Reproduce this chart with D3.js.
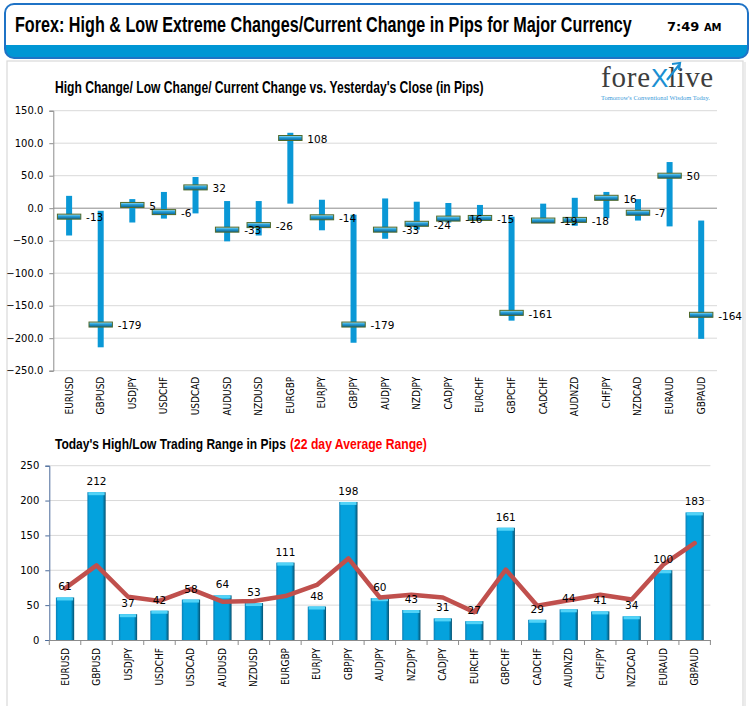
<!DOCTYPE html>
<html>
<head>
<meta charset="utf-8">
<script src="https://cdn.jsdelivr.net/npm/d3@7"></script>
<style>
  html, body { margin: 0; padding: 0; background: #ffffff; }
  svg { display: block; }
</style>
</head>
<body>
<svg id="chart" width="754" height="706"></svg>
<script>
// ---------------- DATA ----------------
const categories = ["EURUSD","GBPUSD","USDJPY","USDCHF","USDCAD","AUDUSD","NZDUSD","EURGBP","EURJPY","GBPJPY","AUDJPY","NZDJPY","CADJPY","EURCHF","GBPCHF","CADCHF","AUDNZD","CHFJPY","NZDCAD","EURAUD","GBPAUD"];
const highChange    = [19, -4, 14, 25, 48, 11, 11, 116, 13, -10, 15, 10, 8, 5, -13, 7, 16, 25, 14, 71, -19];
const lowChange     = [-42, -214, -22, -16, -8, -51, -42, 7, -34, -207, -47, -33, -22, -19, -173, -20, -27, -15, -19, -28, -201];
const currentChange = [-13, -179, 5, -6, 32, -33, -26, 108, -14, -179, -33, -24, -16, -15, -161, -19, -18, 16, -7, 50, -164];
const todayRange    = [61, 212, 37, 42, 58, 64, 53, 111, 48, 198, 60, 43, 31, 27, 161, 29, 44, 41, 34, 100, 183];
const avgRange22    = [74, 107, 62, 56, 73, 55, 56, 63, 79, 117, 61, 65, 61, 40, 101, 49, 57, 65, 58, 108, 139];
const topTicks      = [150, 100, 50, 0, -50, -100, -150, -200, -250];
const bottomTicks   = [0, 50, 100, 150, 200, 250];
const mainTitle     = "Forex:  High & Low Extreme Changes/Current Change in Pips for Major Currency";
const timeLabel     = "7:49";
const topTitle      = "High Change/ Low Change/ Current Change vs. Yesterday's Close (in Pips)";
const bottomTitleA  = "Today's High/Low Trading Range in Pips";
const bottomTitleB  = "(22 day Average Range)";

// ---------------- SETUP ----------------
const svg = d3.select("#chart");
const defs = svg.append("defs");
const narrow = "'Liberation Sans Narrow', 'Liberation Sans', Arial, sans-serif";
const sans = "'DejaVu Sans', Verdana, sans-serif";
const cond = "'DejaVu Sans Condensed', 'DejaVu Sans', sans-serif";

// scale a text horizontally so it spans exactly [x, x+width]
function fitText(sel, x, width) {
  sel.attr("x", 0);
  const w = sel.node().getComputedTextLength();
  sel.attr("transform", `translate(${x},0) scale(${width / w},1)`);
  return sel;
}

// gradients
const mg = defs.append("linearGradient").attr("id","markerGrad").attr("x1",0).attr("y1",0).attr("x2",0).attr("y2",1);
mg.append("stop").attr("offset","0%").attr("stop-color","#c9ecfa");
mg.append("stop").attr("offset","35%").attr("stop-color","#2aa8e0");
mg.append("stop").attr("offset","100%").attr("stop-color","#0b5f92");

const bg = defs.append("linearGradient").attr("id","barGrad").attr("x1",0).attr("y1",0).attr("x2",1).attr("y2",0);
bg.append("stop").attr("offset","0%").attr("stop-color","#0b7fb6");
bg.append("stop").attr("offset","12%").attr("stop-color","#04a2dd");
bg.append("stop").attr("offset","82%").attr("stop-color","#04a2dd");
bg.append("stop").attr("offset","100%").attr("stop-color","#06506f");

// ---------------- HEADER ----------------
defs.append("clipPath").attr("id","hdrClip")
  .append("rect").attr("x",5).attr("y",4).attr("width",743).attr("height",54).attr("rx",9);
const hdr = svg.append("g");
hdr.append("rect").attr("x",5).attr("y",4).attr("width",743).attr("height",54).attr("rx",9).attr("fill","#ffffff");
hdr.append("rect").attr("x",5).attr("y",45).attr("width",743).attr("height",14)
  .attr("fill","#0096d4").attr("clip-path","url(#hdrClip)");
hdr.append("rect").attr("x",5).attr("y",4).attr("width",743).attr("height",54).attr("rx",9)
  .attr("fill","none").attr("stroke","#1f73c6").attr("stroke-width",2);
fitText(hdr.append("text").attr("y",32)
  .attr("font-family",narrow).attr("font-weight","bold").attr("font-size",22)
  .attr("fill","#000").text(mainTitle), 15, 617);
const tl = hdr.append("text").attr("x",667).attr("y",31)
  .attr("font-family",sans).attr("font-weight","bold").attr("font-size",13).attr("fill","#000");
tl.append("tspan").text(timeLabel + " ");
tl.append("tspan").attr("font-size",10).text("AM");

// ---------------- PANEL ----------------
svg.append("rect").attr("x",7).attr("y",61).attr("width",736).attr("height",650)
  .attr("fill","#fff").attr("stroke","#d9d9d9").attr("stroke-width",1.2);
svg.append("line").attr("x1",745).attr("x2",745).attr("y1",62).attr("y2",706)
  .attr("stroke","#ececec").attr("stroke-width",2);

// ---------------- LOGO ----------------
const logo = svg.append("g");
const lt = logo.append("text").attr("x",601).attr("y",87)
  .attr("font-family","'Liberation Serif', 'DejaVu Serif', serif").attr("font-size",29).attr("fill","#3d3d3d");
lt.append("tspan").attr("letter-spacing",0.8).text("fore");
lt.append("tspan").attr("fill","#1b8fd2").attr("font-family","'Liberation Sans', sans-serif").attr("font-size",26).text("X");
lt.append("tspan").attr("letter-spacing",0.5).text("live");
logo.append("path").attr("d","M667,80 L679,65 M672,64 L680,63 L679,70")
  .attr("stroke","#1b8fd2").attr("stroke-width",2.2).attr("fill","none");
fitText(logo.append("text").attr("y",100)
  .attr("font-family","'Liberation Serif', serif").attr("font-size",6.5)
  .attr("fill","#3a9ad9").text("Tomorrow's Conventional Wisdom Today."), 601, 109);

// ---------------- TOP CHART ----------------
const topG = svg.append("g");
fitText(topG.append("text").attr("y",93)
  .attr("font-family",narrow).attr("font-weight","bold").attr("font-size",16)
  .text(topTitle), 55, 429);

const x1 = d3.scaleBand().domain(categories).range([53.3, 717]).padding(0);
const y1 = d3.scaleLinear().domain([-250, 150]).range([370.7, 110.7]);

// gridlines
topG.append("g").selectAll("line").data(topTicks).join("line")
  .attr("x1",53.3).attr("x2",717).attr("y1",d=>y1(d)).attr("y2",d=>y1(d))
  .attr("stroke",d=> d===0 ? "#8c8c8c" : "#d9d9d9").attr("stroke-width",1);

// y axis
const yAx1 = topG.append("g").attr("transform","translate(53.3,0)")
  .call(d3.axisLeft(y1).tickValues(topTicks).tickFormat(d3.format(".1f")).tickSize(4).tickPadding(6));
yAx1.select(".domain").attr("stroke","#8c8c8c");
yAx1.selectAll(".tick line").attr("stroke","#8c8c8c");
yAx1.selectAll("text").attr("font-family",sans).attr("font-size",10).attr("fill","#000");

// x labels
const xAx1 = topG.append("g").attr("transform","translate(0,370.7)")
  .call(d3.axisBottom(x1).tickSize(0));
xAx1.select(".domain").remove();
xAx1.selectAll("text").attr("font-family",cond).attr("font-size",10).attr("fill","#000")
  .attr("transform","rotate(-90)").attr("text-anchor","end")
  .attr("x",-6).attr("y",0).attr("dy","0.35em");

// range bars
const cx1 = d => x1(d) + x1.bandwidth()/2;
topG.append("g").selectAll("rect").data(categories).join("rect")
  .attr("x", d => cx1(d) - 3)
  .attr("width", 6)
  .attr("y", (d,i) => y1(highChange[i]))
  .attr("height", (d,i) => y1(lowChange[i]) - y1(highChange[i]))
  .attr("fill","#0a98d6");

// current markers
topG.append("g").selectAll("rect").data(categories).join("rect")
  .attr("x", d => cx1(d) - 11.7)
  .attr("width", 23.4)
  .attr("y", (d,i) => y1(currentChange[i]) - 2.5)
  .attr("height", 5)
  .attr("fill","url(#markerGrad)")
  .attr("stroke","#4f6a2c").attr("stroke-width",1);

// labels
topG.append("g").selectAll("text").data(categories).join("text")
  .attr("x", d => cx1(d) + 17)
  .attr("y", (d,i) => y1(currentChange[i]))
  .attr("dy","0.45em")
  .attr("font-family",sans).attr("font-size",10.5).attr("fill","#000")
  .text((d,i) => currentChange[i]);

// ---------------- BOTTOM CHART ----------------
const botG = svg.append("g");
fitText(botG.append("text").attr("y",449)
  .attr("font-family",narrow).attr("font-weight","bold").attr("font-size",15.5)
  .attr("fill","#000").text(bottomTitleA), 55, 231);
fitText(botG.append("text").attr("y",449)
  .attr("font-family",narrow).attr("font-weight","bold").attr("font-size",15.5)
  .attr("fill","#ff0000").text(bottomTitleB), 290, 137);

const x2 = d3.scaleBand().domain(categories).range([49.3, 710.4]).padding(0);
const y2 = d3.scaleLinear().domain([0, 250]).range([640, 465.7]);
const cx2 = d => x2(d) + x2.bandwidth()/2;

botG.append("g").selectAll("line").data(bottomTicks.filter(t=>t>0)).join("line")
  .attr("x1",49.3).attr("x2",710.4).attr("y1",d=>y2(d)).attr("y2",d=>y2(d))
  .attr("stroke","#d9d9d9").attr("stroke-width",1);

const yAx2 = botG.append("g").attr("transform","translate(49.3,0)")
  .call(d3.axisLeft(y2).tickValues(bottomTicks).tickFormat(d3.format("d")).tickSize(4).tickPadding(6));
yAx2.select(".domain").attr("stroke","#4a6a9a");
yAx2.selectAll(".tick line").attr("stroke","#4a6a9a");
yAx2.selectAll("text").attr("font-family",sans).attr("font-size",10).attr("fill","#000");

const xAx2 = botG.append("g").attr("transform","translate(0,640)")
  .call(d3.axisBottom(x2).tickSize(0));
xAx2.select(".domain").attr("stroke","#8c8c8c");
xAx2.selectAll("text").attr("font-family",cond).attr("font-size",10).attr("fill","#000")
  .attr("transform","rotate(-90)").attr("text-anchor","end")
  .attr("x",-8).attr("y",0).attr("dy","0.35em");
// band boundary tick marks
botG.append("g").selectAll("line").data(categories.concat(["__end"])).join("line")
  .attr("x1",(d,i)=> i < categories.length ? x2(d) : x2.range()[1])
  .attr("x2",(d,i)=> i < categories.length ? x2(d) : x2.range()[1])
  .attr("y1",640).attr("y2",645).attr("stroke","#8c8c8c");

const bw = x2.bandwidth()*0.58;
botG.append("g").selectAll("rect").data(categories).join("rect")
  .attr("x", d => cx2(d) - bw/2).attr("width", bw)
  .attr("y", (d,i) => y2(todayRange[i]))
  .attr("height", (d,i) => y2(0) - y2(todayRange[i]))
  .attr("fill","url(#barGrad)");
botG.append("g").selectAll("rect").data(categories).join("rect")
  .attr("x", d => cx2(d) - bw/2 + 1).attr("width", bw - 2)
  .attr("y", (d,i) => y2(todayRange[i]))
  .attr("height", 3)
  .attr("fill","#52d3f7");

// average line
const line = d3.line().x((d,i)=>cx2(categories[i])).y(d=>y2(d));
botG.append("path").datum(avgRange22).attr("d", line)
  .attr("fill","none").attr("stroke","#c0504d").attr("stroke-width",4.5)
  .attr("stroke-linejoin","round").attr("stroke-linecap","round");

// bar value labels
botG.append("g").selectAll("text").data(categories).join("text")
  .attr("x", d => cx2(d))
  .attr("y", (d,i) => y2(todayRange[i]) - 7)
  .attr("text-anchor","middle")
  .attr("font-family",sans).attr("font-size",10.5).attr("fill","#000")
  .text((d,i) => todayRange[i]);
</script>
</body>
</html>
